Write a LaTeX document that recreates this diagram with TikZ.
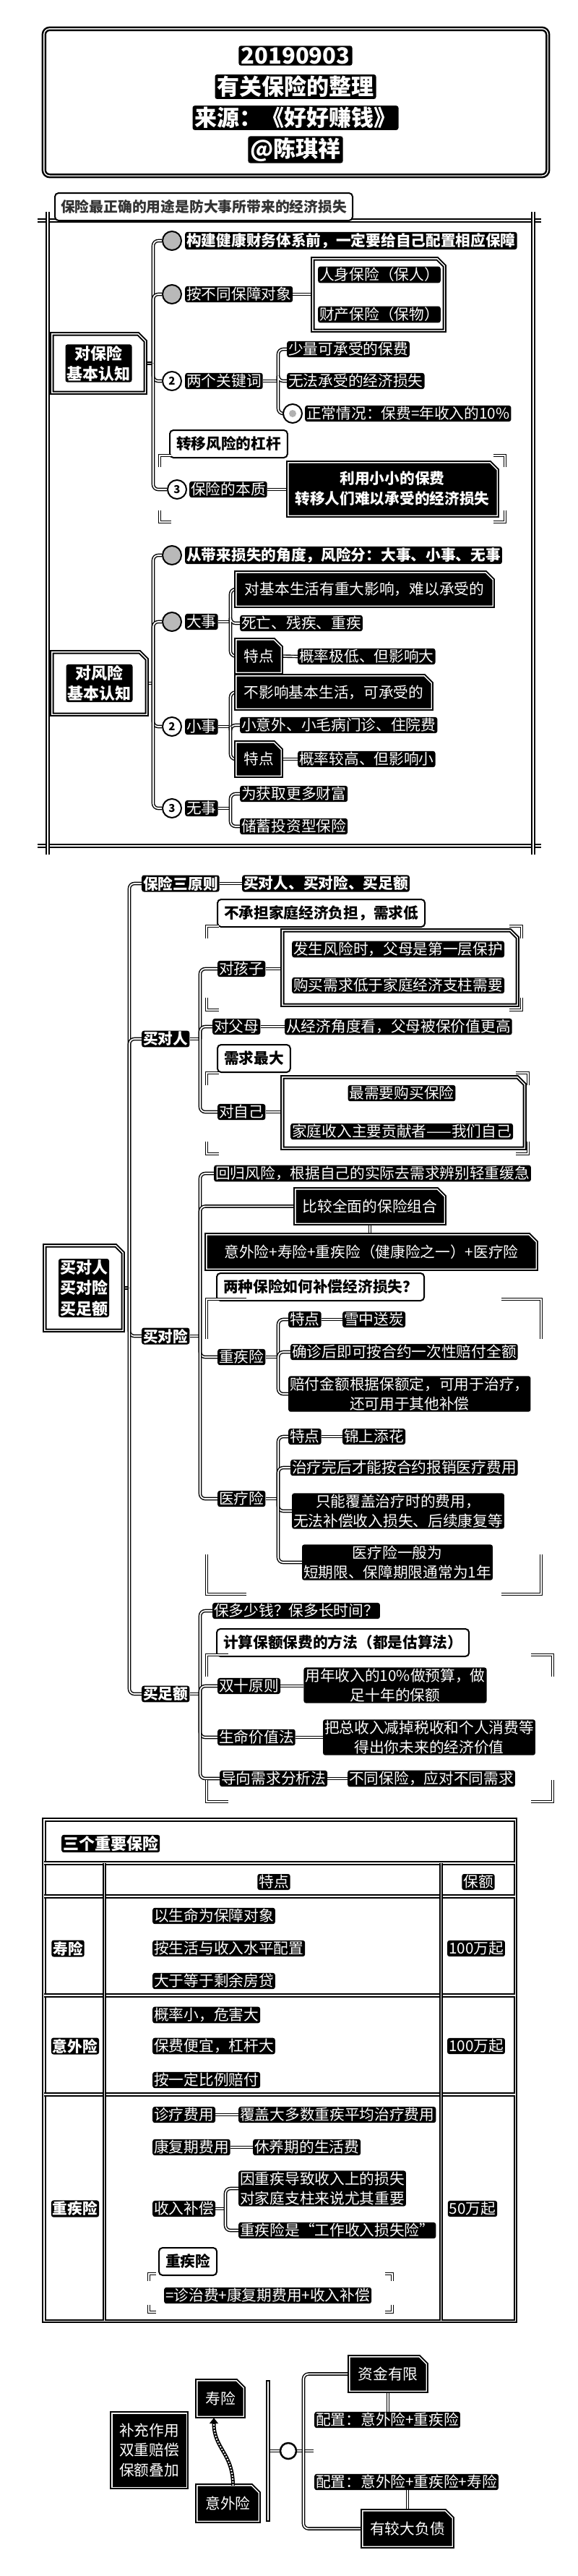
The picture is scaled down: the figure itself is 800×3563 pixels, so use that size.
\documentclass[tikz,border=0pt]{standalone}
\usepackage{fontspec}
\setmainfont{Noto Sans CJK SC}
\usetikzlibrary{fit,arrows.meta,calc,backgrounds}
\newcommand\fsz[1]{\fontsize{#1}{#1}\selectfont}
\newcommand\brackets[5]{%
 \draw[brk] (#1,#2+#5) -- (#1,#2) -- (#1+#5,#2);
 \draw[brk] (#3-#5,#2) -- (#3,#2) -- (#3,#2+#5);
 \draw[brk] (#1,#4-#5) -- (#1,#4) -- (#1+#5,#4);
 \draw[brk] (#3-#5,#4) -- (#3,#4) -- (#3,#4-#5);}
\newcommand\chbox[6]{%
 \node[fit={(#2,#3) (#4,#5)}, inner sep=0pt] (#1) {};
 \draw[boxl, fill=#6] (#1.north west) -- ([xshift=-10pt]#1.north east) -- ([yshift=-10pt]#1.north east) -- (#1.south east) -- (#1.south west) -- cycle;}
\tikzset{
 ln/.style={draw=black, line width=1.4pt, double=white, double distance=1.8pt},
 br/.style={ln, rounded corners=7pt},
 fr/.style={draw=black, line width=1.8pt, double=white, double distance=1.6pt},
 boxl/.style={draw=black, line width=2pt, double=white, double distance=1.4pt},
 brk/.style={draw=black, line width=1.6pt, double=white, double distance=1.6pt},
 tx/.style={fill=black, text=white, inner xsep=2pt, inner ysep=1.5pt, rounded corners=3pt, font=\fsz{20.7}},
 tb/.style={tx, font=\fsz{20.7}\bfseries},
 tm/.style={tx, align=center, font=\fontsize{20.7}{27}\selectfont},
 tt/.style={tx, font=\fsz{31}\bfseries, inner xsep=3pt, inner ysep=2pt},
 tk/.style={tx, align=center, font=\fontsize{22}{28}\selectfont\bfseries},
 lab/.style={draw=black, line width=2pt, fill=white, rounded corners=5pt, text=black, font=\fsz{20.7}\bfseries, inner xsep=9pt, minimum height=38pt},
 mk/.style={circle, draw=black, line width=2pt, minimum size=26pt, inner sep=0pt, font=\fsz{15}\bfseries},
 mk1/.style={mk, fill=gray!55},
 mkn/.style={mk, fill=white, text=black},
}
\begin{document}
\begin{tikzpicture}[x=1pt,y=-1pt]
\useasboundingbox (0,0) rectangle (800,3563);
\begin{scope}[on background layer]
\fill[white] (0,0) rectangle (800,3563);
\end{scope}

% ---------- title ----------
\node[fit={(61,40) (758,243)}, inner sep=0pt] (title) {};
\draw[boxl, line width=2.5pt, rounded corners=8pt] (title.north west) rectangle (title.south east);
\node[tt] (t1) at (409,77) {20190903};
\node[tt] (t2) at (409,120) {有关保险的整理};
\node[tt] (t3) at (409,163) {来源：《好好赚钱》};
\node[tt] (t4) at (409,207) {@陈琪祥};

% ---------- section 1 frame ----------
\draw[fr] (52,305) -- (749,305);
\draw[fr] (52,1170) -- (749,1170);
\draw[fr] (66,293) -- (66,1182);
\draw[fr] (738,293) -- (738,1182);
\node[lab, anchor=west, font=\fsz{19.8}\bfseries, text=black!80, inner xsep=8pt] (hdr) at (75,286) {保险最正确的用途是防大事所带来的经济损失};

\coordinate (T1) at (212,0);
\coordinate (T3) at (385,0);
\coordinate (T5) at (319,0);

\chbox{k1}{72}{462}{201}{543}{white}
\node[tk] (k1t) at (k1.center) {对保险\\基本认知};

\node[mk1] (m1) at (238,333) {};
\node[tb, anchor=west] (c1) at (256,333) {构建健康财务体系前，一定要给自己配置相应保障};
\node[mk1] (m2) at (238,407) {};
\node[tx, anchor=west] (c2) at (256,407) {按不同保障对象};
\chbox{b2}{433}{358}{615}{457}{white}
\node[tx, anchor=west] (b2a) at (440,380) {人身保险（保人）};
\node[tx, anchor=west] (b2b) at (440,435) {财产保险（保物）};
\node[mkn] (m3) at (238,527) {2};
\node[tx, anchor=west] (c3) at (256,527) {两个关键词};
\node[tx, anchor=west] (c3a) at (397,483) {少量可承受的保费};
\node[tx, anchor=west] (c3b) at (397,527) {无法承受的经济损失};
\node[mkn, path picture={\fill[gray!60] (path picture bounding box.center) circle (5pt);}] (m3c) at (405,572) {};
\node[tx, anchor=west] (c3c) at (422,572) {正常情况：保费=年收入的10\%};

\node[lab, anchor=west] (lev) at (234,614) {转移风险的杠杆};
\brackets{221}{630}{699}{722}{16}
\node[mkn] (m4) at (245,677) {3};
\node[tx, anchor=west] (c4) at (262,677) {保险的本质};
\chbox{b4}{399}{640}{688}{713}{black}
\node[tm, font=\fontsize{20.7}{28}\selectfont\bfseries] (b4t) at (543,676) {利用小小的保费\\转移人们难以承受的经济损失};

\chbox{k2}{72}{902}{203}{988}{white}
\node[tk] (k2t) at (k2.center) {对风险\\基本认知};
\node[mk1] (n1) at (238,768) {};
\node[tb, anchor=west] (d1) at (256,768) {从带来损失的角度，风险分：大事、小事、无事};
\node[mk1] (n2) at (238,860) {};
\node[tx, anchor=west] (d2) at (256,860) {大事};
\chbox{e1}{327}{792}{682}{838}{black}
\node[tx] (e1t) at (e1.center) {对基本生活有重大影响，难以承受的};
\node[tx, anchor=west] (e2) at (332,862) {死亡、残疾、重疾};
\chbox{e3}{327}{885}{389}{930}{black}
\node[tx] (e3t) at (e3.center) {特点};
\node[tx, anchor=west] (e4) at (412,908) {概率极低、但影响大};
\node[mkn] (n3) at (238,1005) {2};
\node[tx, anchor=west] (d3) at (256,1005) {小事};
\chbox{f1}{327}{935}{597}{980}{black}
\node[tx] (f1t) at (f1.center) {不影响基本生活，可承受的};
\node[tx, anchor=west] (f2) at (332,1003) {小意外、小毛病门诊、住院费};
\chbox{f3}{327}{1027}{389}{1073}{black}
\node[tx] (f3t) at (f3.center) {特点};
\node[tx, anchor=west] (f4) at (412,1050) {概率较高、但影响小};
\node[mkn] (n4) at (238,1118) {3};
\node[tx, anchor=west] (d4) at (256,1118) {无事};
\node[tx, anchor=west] (g1) at (332,1098) {为获取更多财富};
\node[tx, anchor=west] (g2) at (332,1143) {储蓄投资型保险};

% ---------- section 2 ----------
\coordinate (T2) at (179,0);
\coordinate (T6) at (277,0);
\chbox{k3}{62}{1723}{170}{1840}{white}
\node[tk, font=\fontsize{22}{28.5}\selectfont\bfseries] (k3t) at (k3.center) {买对人\\买对险\\买足额};
\node[tb, anchor=west] (h1) at (196,1222) {保险三原则};
\node[tb, anchor=west] (h1b) at (335,1222) {买对人、买对险、买足额};
\node[tb, anchor=west] (h2) at (196,1437) {买对人};
\node[tx, anchor=west] (p1) at (301,1340) {对孩子};
\node[lab, anchor=west] (pl1) at (300,1263) {不承担家庭经济负担，需求低};
\brackets{286}{1281}{722}{1397}{17}
\chbox{pb1}{391}{1287}{716}{1390}{white}
\node[tx, anchor=west] (pb1a) at (404,1313) {发生风险时，父母是第一层保护};
\node[tx, anchor=west] (pb1b) at (404,1363) {购买需求低于家庭经济支柱需要};
\node[tx, anchor=west] (p2) at (294,1420) {对父母};
\node[tx, anchor=west] (p2b) at (394,1420) {从经济角度看，父母被保价值更高};
\node[tx, anchor=west] (p3) at (301,1538) {对自己};
\node[lab, anchor=west] (pl3) at (300,1464) {需求最大};
\brackets{286}{1484}{731}{1596}{17}
\chbox{pb3}{391}{1490}{726}{1588}{white}
\node[tx] (pb3a) at (556,1512) {最需要购买保险};
\node[tx, anchor=west] (pb3b) at (402,1565) {家庭收入主要贡献者——我们自己};

\node[tb, anchor=west] (h3) at (196,1848) {买对险};
\node[tx, anchor=west] (q1) at (296,1623) {回归风险，根据自己的实际去需求辨别轻重缓急};
\chbox{qb}{409}{1645}{615}{1692}{black}
\node[tx] (qbt) at (qb.center) {比较全面的保险组合};
\chbox{qc}{286}{1708}{742}{1755}{black}
\node[tx] (qct) at (qc.center) {意外险+寿险+重疾险（健康险之一）+医疗险};
\node[lab, anchor=west] (ql) at (299,1780) {两种保险如何补偿经济损失？};
\brackets{286}{1797}{749}{2205}{55}
\node[tx, anchor=west] (q2) at (301,1877) {重疾险};
\node[tx, anchor=west] (r1) at (399,1825) {特点};
\node[tx, anchor=west] (r1b) at (474,1825) {雪中送炭};
\node[tx, anchor=west] (r2) at (402,1870) {确诊后即可按合约一次性赔付全额};
\node[tm, anchor=west] (r3) at (399,1928) {赔付金额根据保额定，可用于治疗，\\还可用于其他补偿};
\node[tx, anchor=west] (q3) at (301,2073) {医疗险};
\node[tx, anchor=west] (s1) at (399,1987) {特点};
\node[tx, anchor=west] (s1b) at (474,1987) {锦上添花};
\node[tx, anchor=west] (s2) at (402,2030) {治疗完后才能按合约报销医疗费用};
\node[tm] (s3) at (551,2090) {只能覆盖治疗时的费用，\\无法补偿收入损失、后续康复等};
\node[tm] (s4) at (550,2161) {医疗险一般为\\短期限、保障期限通常为1年};

\node[tb, anchor=west] (h4) at (196,2343) {买足额};
\node[tx, anchor=west] (u1) at (294,2228) {保多少钱？保多长时间？};
\node[lab, anchor=west] (ul) at (299,2272) {计算保额保费的方法（都是估算法）};
\brackets{286}{2289}{765}{2492}{30}
\node[tx, anchor=west] (u2) at (301,2332) {双十原则};
\node[tm] (u2b) at (547,2331) {用年收入的10\%做预算，做\\足十年的保额};
\node[tx, anchor=west] (u3) at (301,2403) {生命价值法};
\node[tm] (u3b) at (594,2403) {把总收入减掉税收和个人消费等\\得出你未来的经济价值};
\node[tx, anchor=west] (u4) at (304,2460) {导向需求分析法};
\node[tx, anchor=west] (u4b) at (481,2460) {不同保险，应对不同需求};

% ---------- section 3: table ----------
\node[fit={(61,2517) (713,3210)}, inner sep=0pt] (tab) {};
\draw[boxl] (tab.north west) rectangle (tab.south east);
\draw[boxl] (61,2577) -- (713,2577);
\draw[boxl] (61,2623) -- (713,2623);
\draw[boxl] (61,2760) -- (713,2760);
\draw[boxl] (61,2897) -- (713,2897);
\draw[boxl] (144.5,2577) -- (144.5,3210);
\draw[boxl] (610.5,2577) -- (610.5,3210);
\node[tb, anchor=west, font=\fsz{22}\bfseries] (tt) at (85,2550) {三个重要保险};
\node[tx] (th1) at (379,2603) {特点};
\node[tx] (th2) at (662,2603) {保额};
\node[tb] (r1n) at (94,2695) {寿险};
\node[tx, anchor=west] (r1i1) at (211,2650) {以生命为保障对象};
\node[tx, anchor=west] (r1i2) at (211,2695) {按生活与收入水平配置};
\node[tx, anchor=west] (r1i3) at (211,2740) {大于等于剩余房贷};
\node[tx] (r1v) at (659,2695) {100万起};
\node[tb] (r2n) at (104,2830) {意外险};
\node[tx, anchor=west] (r2i1) at (211,2787) {概率小，危害大};
\node[tx, anchor=west] (r2i2) at (211,2830) {保费便宜，杠杆大};
\node[tx, anchor=west] (r2i3) at (211,2877) {按一定比例赔付};
\node[tx] (r2v) at (659,2830) {100万起};
\node[tb] (r3n) at (104,3055) {重疾险};
\node[tx, anchor=west] (w1) at (211,2925) {诊疗费用};
\node[tx, anchor=west] (w1b) at (330,2925) {覆盖大多数重疾平均治疗费用};
\node[tx, anchor=west] (w2) at (211,2970) {康复期费用};
\node[tx, anchor=west] (w2b) at (350,2970) {休养期的生活费};
\node[tx, anchor=west] (w3) at (211,3055) {收入补偿};
\coordinate (T8) at (312,0);
\node[tm, anchor=west] (w3a) at (330,3027) {因重疾导致收入上的损失\\对家庭支柱来说尤其重要};
\node[tx, anchor=west] (w3b) at (330,3085) {重疾险是“工作收入损失险”};
\node[lab, anchor=west] (wl) at (219,3128) {重疾险};
\brackets{206}{3145}{543}{3198}{10}
\node[tx, anchor=west] (w4) at (227,3175) {=诊治费+康复期费用+收入补偿};
\node[tx] (r3v) at (654,3055) {50万起};

% ---------- section 4 ----------
\node[fit={(155,3338) (258,3440)}, inner sep=0pt] (z1) {};
\draw[boxl, fill=black] (z1.north west) rectangle (z1.south east);
\node[tm, font=\fontsize{20.7}{27.5}\selectfont] (z1t) at (z1.center) {补充作用\\双重赔偿\\保额叠加};
\chbox{z2}{273}{3293}{337}{3342}{black}
\node[tx] (z2t) at (z2.center) {寿险};
\chbox{z3}{273}{3438}{358}{3487}{black}
\node[tx] (z3t) at (z3.center) {意外险};
\node[draw=black, line width=1.5pt, fill=white, minimum width=4pt, minimum height=194pt, inner sep=0pt] (bar) at (371,3390) {};
\node[circle, draw=black, line width=2.5pt, fill=white, minimum size=22pt, inner sep=0pt] (hub) at (399,3390) {};
\coordinate (T9) at (420,3390);
\chbox{z4}{484}{3260}{590}{3307}{black}
\node[tx] (z4t) at (z4.center) {资金有限};
\chbox{z5}{502}{3473}{626}{3522}{black}
\node[tx] (z5t) at (z5.center) {有较大负债};
\node[tx, anchor=west] (z6) at (435,3347) {配置：意外险+重疾险};
\node[tx, anchor=west] (z7) at (435,3433) {配置：意外险+重疾险+寿险};

% ---------- connectors ----------
\begin{scope}[on background layer]
% section 1a
\draw[ln] (k1.east) -- (k1.east -| T1);
\foreach \c in {m1,m2,m3,m4} \draw[br] (k1.east -| T1) |- (\c.west);
\draw[ln] (c2.east) -- (c2.east -| b2.west);
\draw[ln] (c3.east) -- (c3.east -| T3);
\foreach \c in {c3a,c3b,m3c} \draw[br] (c3.east -| T3) |- (\c.west);
\draw[ln] (c4.east) -- (c4.east -| b4.west);
% section 1b
\draw[ln] (k2.east) -- (k2.east -| T1);
\foreach \c in {n1,n2,n3,n4} \draw[br] (k2.east -| T1) |- (\c.west);
\draw[ln] (d2.east) -- (d2.east -| T5);
\foreach \c in {e1,e2,e3} \draw[br] (d2.east -| T5) |- (\c.west);
\draw[ln] (e3.east) -- (e4.west);
\draw[ln] (d3.east) -- (d3.east -| T5);
\foreach \c in {f1,f2,f3} \draw[br] (d3.east -| T5) |- (\c.west);
\draw[ln] (f3.east) -- (f4.west);
\draw[ln] (d4.east) -- (d4.east -| T5);
\foreach \c in {g1,g2} \draw[br] (d4.east -| T5) |- (\c.west);
% section 2
\draw[ln] (k3.east) -- (k3.east -| T2);
\foreach \c in {h1,h2,h3,h4} \draw[br] (k3.east -| T2) |- (\c.west);
\draw[ln] (h1.east) -- (h1b.west);
\draw[ln] (h2.east) -- (h2.east -| T6);
\foreach \c in {p1,p2,p3} \draw[br] (h2.east -| T6) |- (\c.west);
\draw[ln] (p1.east) -- (p1.east -| pb1.west);
\draw[ln] (p2.east) -- (p2b.west);
\draw[ln] (p3.east) -- (p3.east -| pb3.west);
\draw[ln] (h3.east) -- (h3.east -| T6);
\foreach \c in {q1,qb,q2,q3} \draw[br] (h3.east -| T6) |- (\c.west);
\draw[ln] (qb.south) -- (qb.south |- qc.north);
\draw[ln] (q2.east) -- (q2.east -| T3);
\foreach \c in {r1,r2,r3} \draw[br] (q2.east -| T3) |- (\c.west);
\draw[ln] (r1.east) -- (r1b.west);
\draw[ln] (q3.east) -- (q3.east -| T3);
\foreach \c in {s1,s2,s3,s4} \draw[br] (q3.east -| T3) |- (\c.west);
\draw[ln] (s1.east) -- (s1b.west);
\draw[ln] (h4.east) -- (h4.east -| T6);
\foreach \c in {u1,u2,u3,u4} \draw[br] (h4.east -| T6) |- (\c.west);
\draw[ln] (u2.east) -- (u2.east -| u2b.west);
\draw[ln] (u3.east) -- (u3b.west);
\draw[ln] (u4.east) -- (u4b.west);
% table
\draw[ln] (w1.east) -- (w1b.west);
\draw[ln] (w2.east) -- (w2b.west);
\draw[ln] (w3.east) -- (w3.east -| T8);
\foreach \c in {w3a,w3b} \draw[br] (w3.east -| T8) |- (\c.west);
% section 4
\draw[ln] (bar.east) -- (hub.west);
\draw[ln] (hub.east) -- ([xshift=14pt]T9);
\draw[br] (T9) |- (z4.west);
\draw[br] (T9) |- (z5.west);
\draw[ln] (z4.south) -- (z4.south |- z6.north);
\draw[ln] (z5.north |- z7.south) -- (z5.north);
\end{scope}
\draw[line width=5pt, black, -{Triangle[width=12pt,length=8pt]}] ([xshift=7pt]z3.north) .. controls ([xshift=7pt,yshift=45pt]z3.north) and ([xshift=-9pt,yshift=-45pt]z2.south) .. ([xshift=-9pt,yshift=-2pt]z2.south);
\draw[line width=1.8pt, white, dash pattern=on 2pt off 2pt, shorten >=8pt] ([xshift=7pt]z3.north) .. controls ([xshift=7pt,yshift=45pt]z3.north) and ([xshift=-9pt,yshift=-45pt]z2.south) .. ([xshift=-9pt,yshift=-2pt]z2.south);
\end{tikzpicture}
\end{document}
